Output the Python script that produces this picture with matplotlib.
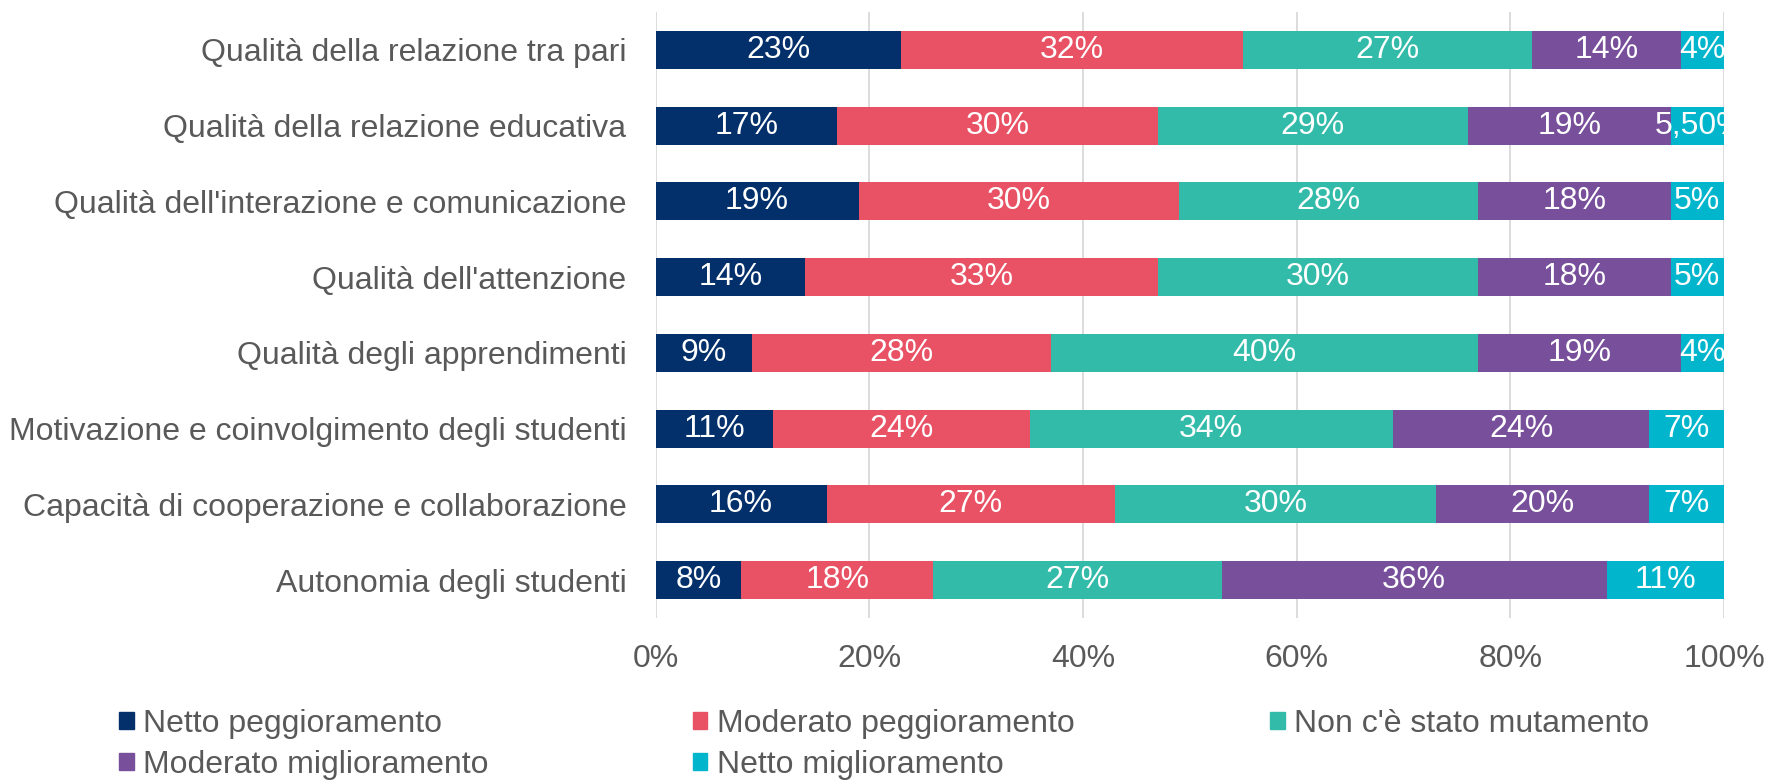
import matplotlib.pyplot as plt
from matplotlib.patches import Patch

plt.rcParams['font.family'] = ['Liberation Sans', 'DejaVu Sans']

# categories from top to bottom
categories = ["Qualità della relazione tra pari",
              "Qualità della relazione educativa",
              "Qualità dell'interazione e comunicazione",
              "Qualità dell'attenzione",
              "Qualità degli apprendimenti",
              "Motivazione e coinvolgimento degli studenti",
              "Capacità di cooperazione e collaborazione",
              "Autonomia degli studenti"]

series_names = ["Netto peggioramento", "Moderato peggioramento",
                "Non c'è stato mutamento", "Moderato miglioramento",
                "Netto miglioramento"]

netto_pegg = [23, 17, 19, 14, 9, 11, 16, 8]
moderato_pegg = [32, 30, 30, 33, 28, 24, 27, 18]
nessun_mutamento = [27, 29, 28, 30, 40, 34, 30, 27]
moderato_migl = [14, 19, 18, 18, 19, 24, 20, 36]
netto_migl = [4, 5.5, 5, 5, 4, 7, 7, 11]

xticks = [0, 20, 40, 60, 80, 100]

colors = ["#03306B", "#E85264", "#33BBAA", "#774F9A", "#00B5CC"]
text_grey = "#595959"
fs = 23

series = [netto_pegg, moderato_pegg, nessun_mutamento, moderato_migl, netto_migl]

fig = plt.figure(figsize=(17.67, 7.8), dpi=100)
ax = fig.add_axes([0.371, 0.2077, 0.6047, 0.777])

ypos = list(range(len(categories)))[::-1]
left = [0] * len(categories)
for vals, col, name in zip(series, colors, series_names):
    ax.barh(ypos, vals, left=left, height=0.5, color=col, label=name, zorder=2)
    for y, l, v in zip(ypos, left, vals):
        if float(v).is_integer():
            txt = f"{v:.0f}%"
        else:
            txt = f"{v:.2f}%".replace('.', ',')
        ax.text(l + v / 2, y, txt, ha='center', va='center', color='white',
                fontsize=fs, clip_on=True, zorder=3)
    left = [a + b for a, b in zip(left, vals)]

ax.set_xlim(0, 100)
ax.set_ylim(-0.5, len(categories) - 0.5)
ax.set_yticks(ypos)
ax.set_yticklabels(categories)
ax.set_xticks(xticks)
ax.set_xticklabels([f"{t}%" for t in xticks])
ax.tick_params(axis='both', length=0, labelsize=fs, colors=text_grey)
ax.tick_params(axis='y', pad=21)
ax.tick_params(axis='x', pad=19)
ax.grid(axis='x', color='#D9D9D9', linewidth=1.3, zorder=0)
for s in ax.spines.values():
    s.set_visible(False)

# legend laid out row by row in three evenly spaced columns
handles = [Patch(color=c) for c in colors]
col_x = [0.0675, 0.392, 0.719]
groups = [[0, 3], [1, 4], [2]]
for x, g in zip(col_x, groups):
    fig.legend([handles[i] for i in g], [series_names[i] for i in g],
               loc='upper left', bbox_to_anchor=(x, 0.091), frameon=False,
               fontsize=fs, labelcolor=text_grey, handlelength=0.45,
               handleheight=0.45, handletextpad=0.3, labelspacing=0.33,
               borderpad=0, borderaxespad=0)

fig.savefig("out.png", dpi=100)
